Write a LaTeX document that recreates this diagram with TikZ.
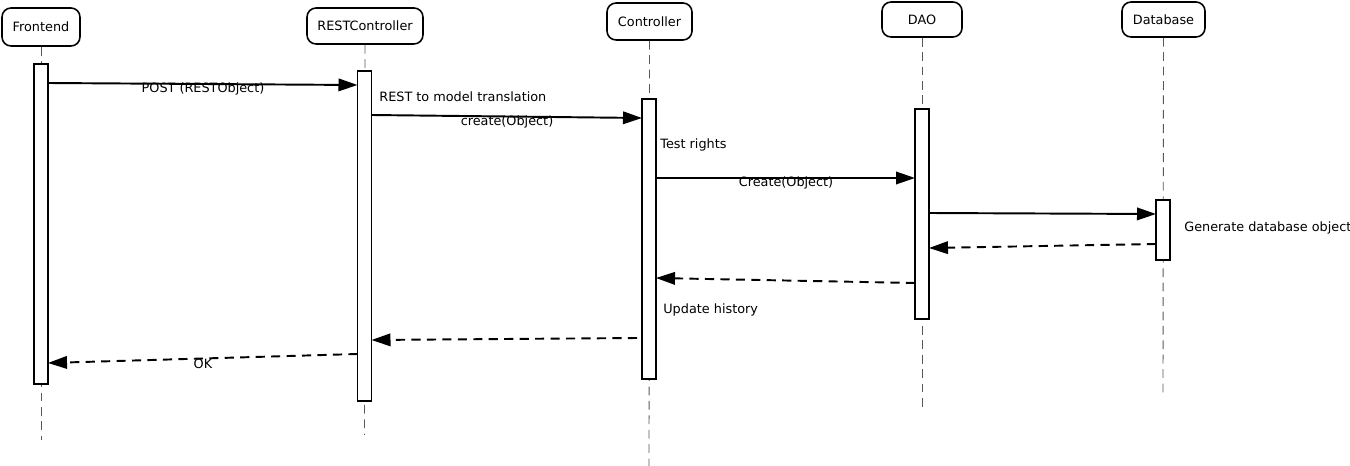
\documentclass[tikz,border=0pt]{standalone}
\usepackage{fontspec}
\setmainfont{DejaVu Sans}
\usetikzlibrary{arrows.meta}
\begin{document}
\begin{tikzpicture}[x=0.02cm,y=-0.02cm,
  head/.style={draw, line width=0.9pt, rounded corners=1.8mm, fill=white, inner sep=0pt, font=\fontsize{7.3}{8}\selectfont},
  actbar/.style={draw, line width=0.9pt, fill=white, minimum width=0.28cm, inner sep=0pt, anchor=north},
  life/.style={draw=black!65, line width=0.5pt, dash pattern=on 5pt off 3.2pt},
  msg/.style={line width=1.1pt, -{Triangle[length=3.8mm,width=2.5mm]}},
  ret/.style={msg, dash pattern=on 5.2pt off 3.6pt},
  lbl/.style={font=\fontsize{7.3}{8}\selectfont, inner sep=0pt}]
\useasboundingbox (0,0) rectangle (1350,466);
% heads
\node[head, minimum width=1.56cm, minimum height=0.76cm] (hF) at (41,27) {Frontend};
\node[head, minimum width=2.32cm, minimum height=0.72cm] (hR) at (365,26) {RESTController};
\node[head, minimum width=1.70cm, minimum height=0.74cm] (hC) at (649.5,21.5) {Controller};
\node[head, minimum width=1.60cm, minimum height=0.70cm] (hD) at (922,19.5) {DAO};
\node[head, minimum width=1.66cm, minimum height=0.70cm] (hB) at (1163.5,19.5) {Database};
% lifeline ends
\coordinate (eF) at (41,440);
\coordinate (eR) at (364.5,435);
\coordinate (eC) at (649,466);
\coordinate (eD) at (922,412);
\coordinate (eB) at (1163,396);
\draw[life] (hF.south) -- (eF);
\draw[life] (hR.south) -- (eR);
\draw[life] (hC.south) -- (eC);
\draw[life] (hD.south) -- (eD);
\draw[life] (hB.south) -- (eB);
% activation bars
\node[actbar, minimum height=6.4cm] (aF) at (41,63) {};
\node[actbar, minimum height=6.6cm] (aR) at (364.5,70) {};
\node[actbar, minimum height=5.6cm] (aC) at (649,98) {};
\node[actbar, minimum height=4.2cm] (aD) at (922,108) {};
\node[actbar, minimum height=1.2cm] (aB) at (1163,199) {};
% message end points
\coordinate (m1s) at (48,83);   \coordinate (m1e) at (357.5,85);
\coordinate (m2s) at (371.5,115); \coordinate (m2e) at (642,118);
\coordinate (m3s) at (656,178); \coordinate (m3e) at (915,178);
\coordinate (m4s) at (929,213); \coordinate (m4e) at (1156,214);
\coordinate (m5s) at (1156,244); \coordinate (m5e) at (929,248);
\coordinate (m6s) at (915,283); \coordinate (m6e) at (656,278);
\coordinate (m7s) at (637,338); \coordinate (m7e) at (371.5,340);
\coordinate (m8s) at (357.5,354); \coordinate (m8e) at (48,363);
\draw[msg] (m1s) -- (m1e);
\draw[msg] (m2s) -- (m2e);
\draw[msg] (m3s) -- (m3e);
\draw[msg] (m4s) -- (m4e);
\draw[ret] (m5s) -- (m5e);
\draw[ret] (m6s) -- (m6e);
\draw[ret] (m7s) -- (m7e);
\draw[ret] (m8s) -- (m8e);
% labels
\node[lbl] (t1) at (203,89) {POST (RESTObject)};
\node[lbl, anchor=west] (t2) at (379,97) {REST to model translation};
\node[lbl] (t3) at (507,122) {create(Object)};
\node[lbl, anchor=west] (t4) at (660,145) {Test rights};
\node[lbl] (t5) at (786,183) {Create(Object)};
\node[lbl, anchor=west] (t6) at (1184,228) {Generate database object};
\node[lbl, anchor=west] (t7) at (663,310) {Update history};
\node[lbl] (t8) at (203,364) {OK};
\end{tikzpicture}
\end{document}
